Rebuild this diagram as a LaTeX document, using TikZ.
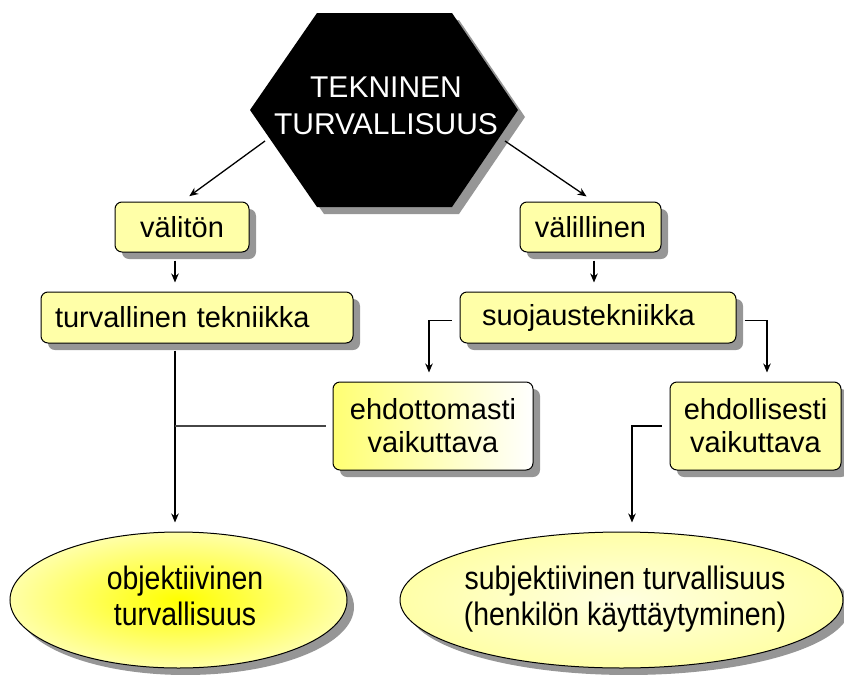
\documentclass[tikz,border=0pt]{standalone}
\usepackage{fontspec}
\usepackage{graphicx}
\setmainfont{Liberation Sans}
\usetikzlibrary{shadows,arrows.meta,shapes.geometric}
\definecolor{boxyellow}{RGB}{255,255,168}
\definecolor{shadowgray}{RGB}{150,150,150}
\definecolor{linegray}{RGB}{70,70,70}
\newcommand{\elltext}[1]{\scalebox{0.98}[1.12]{\begin{tabular}{@{}c@{}}#1\end{tabular}}}
\begin{document}
\begin{tikzpicture}[x=1pt,y=-1pt,
  font=\fontsize{29}{33}\selectfont,
  shad/.style={drop shadow={shadow xshift=7pt,shadow yshift=-7pt,fill=shadowgray,opacity=1}},
  ybox/.style={draw=black,line width=1pt,rounded corners=7pt,fill=boxyellow,shad,inner sep=0pt,align=center},
  ell/.style={ellipse,draw=black,line width=1pt,shad,inner sep=0pt,align=center},
  arr/.style={draw=black,line width=1.3pt,-{Stealth[length=9pt,width=7.5pt]}},
  conn/.style={draw=linegray,line width=1.3pt}
]
\useasboundingbox (0,0) rectangle (844,675);

% hexagon
\fill[shadowgray] (324,20) -- (459,20) -- (525,117) -- (459,214) -- (324,214) -- (257,117) -- cycle;
\fill[black] (317,13) -- (452,13) -- (518,110) -- (452,207) -- (317,207) -- (250,110) -- cycle;
\node[text=white,align=center,font=\fontsize{30}{37}\selectfont] (hex) at (386,106) {TEKNINEN\\TURVALLISUUS};
\coordinate (hexL) at (265,141);
\coordinate (hexR) at (505,141);

% x positions of vertical connectors
\coordinate (xl) at (175,0);
\coordinate (xa) at (429,0);
\coordinate (xb) at (767,0);
\coordinate (xr) at (632,0);
\coordinate (xv) at (594,0);

% boxes
\node[ybox,minimum width=134pt,minimum height=50pt] (valiton) at (182,227) {välitön};
\node[ybox,minimum width=141pt,minimum height=50pt] (valill) at (590.5,227) {välillinen};
\node[ybox,minimum height=51pt,inner xsep=14pt,text width=284pt,align=left] (turv) at (197,317.5) {turvallinen tekniikka};
\node[ybox,minimum height=51pt,inner xsep=22pt,text width=232pt,align=left] (suoj) at (598,317.5) {suojaustekniikka};
\node[ybox,minimum width=200pt,minimum height=88pt,left color=yellow!55,right color=white] (ehdot) at (433,426) {ehdottomasti\\vaikuttava};
\node[ybox,minimum width=171pt,minimum height=88pt] (ehdoll) at (755.5,426) {ehdollisesti\\vaikuttava};

% ellipses
\node[ell,minimum width=337pt,minimum height=136pt,inner xsep=-20pt,inner color=yellow,outer color=boxyellow] (lell) at (178.5,600) {};
\node[font=\fontsize{29}{32}\selectfont] (ltext) at (185,600) {\elltext{objektiivinen\\turvallisuus}};
\node[ell,minimum width=443pt,minimum height=136pt,inner xsep=-20pt,inner color=yellow!12,outer color=boxyellow] (rell) at (621.5,600) {};
\node[font=\fontsize{29}{32}\selectfont] (rtext) at (625,600) {\elltext{subjektiivinen turvallisuus\\(henkilön käyttäytyminen)}};

% connectors
\draw[arr,shorten >=9pt] (hexL) -- (valiton.north);
\draw[arr,shorten >=9pt] (hexR) -- (valill.north -| xv);
\draw[arr,shorten <=8pt,shorten >=9pt] (valiton.south -| xl) -- (turv.north -| xl);
\draw[arr,shorten <=8pt,shorten >=9pt] (valill.south -| xv) -- (suoj.north -| xv);
\draw[arr,line width=1.6pt,shorten <=7pt,shorten >=9pt] (turv.south -| xl) -- (lell.north -| xl);
\draw[conn,line width=1.1pt,shorten <=7pt] (ehdot.west) -- (ehdot.west -| xl);
\draw[arr,shorten <=8pt,shorten >=9pt] ([yshift=-3pt]suoj.west) -| (ehdot.north -| xa);
\draw[arr,shorten <=8pt,shorten >=9pt] ([yshift=-3pt]suoj.east) -| (ehdoll.north -| xb);
\draw[arr,shorten <=8pt,shorten >=9pt] (ehdoll.west) -| (rell.north -| xr);
\end{tikzpicture}
\end{document}
